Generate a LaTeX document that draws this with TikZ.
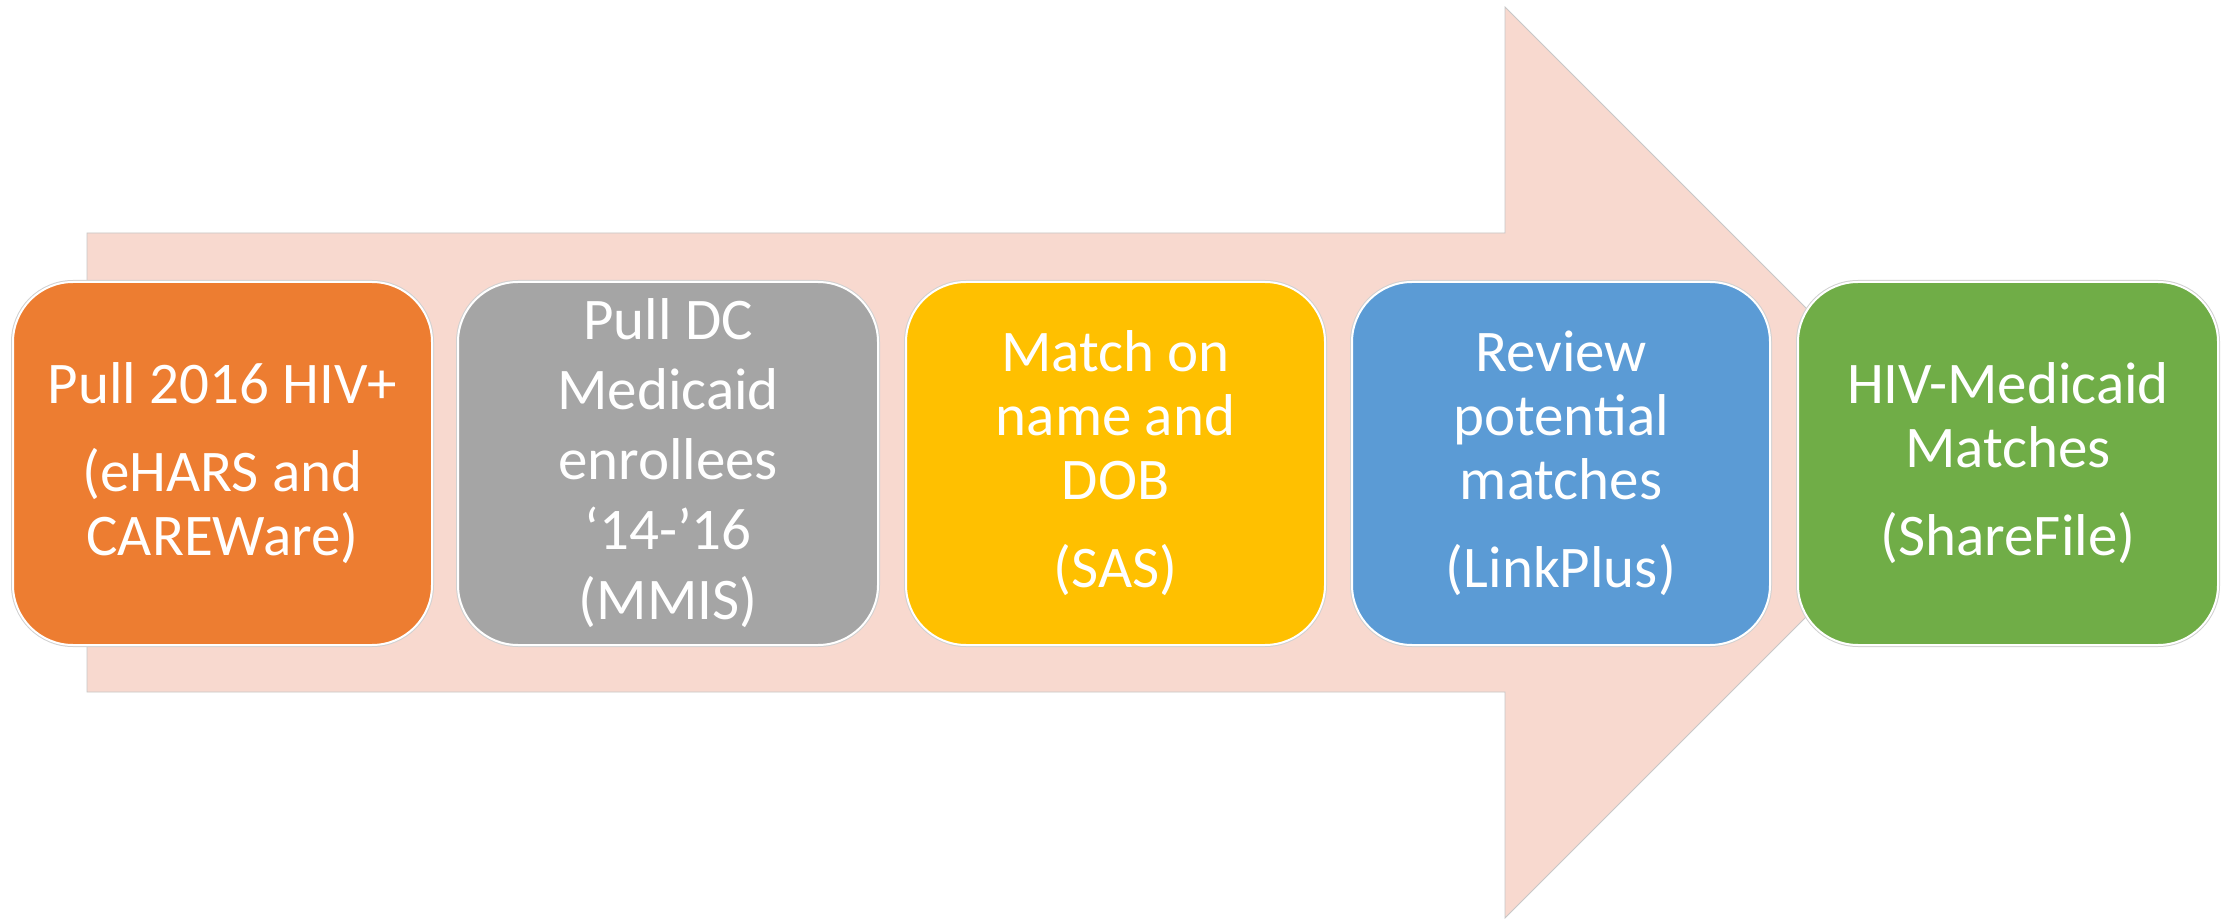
\documentclass[tikz,border=0pt]{standalone}
\usepackage{fontspec}
\setmainfont{Carlito}
\definecolor{arrowfill}{HTML}{F8D9CF}
\definecolor{c1}{HTML}{ED7D31}
\definecolor{c2}{HTML}{A5A5A5}
\definecolor{c3}{HTML}{FFC000}
\definecolor{c4}{HTML}{5B9BD5}
\definecolor{c5}{HTML}{70AD47}
\tikzset{
  stepbox/.style={rounded corners=30pt, inner sep=0pt, minimum height=181.5pt,
    draw=white, line width=1pt, preaction={draw=black!18, line width=2pt},
    text=white, align=center, font=\fontsize{29.5pt}{32pt}\selectfont},
  bigarrow/.style={fill=arrowfill, draw=black!22, line width=0.4pt}
}
\begin{document}
\begin{tikzpicture}[x=0.5pt,y=-0.5pt]
\useasboundingbox (0,0) rectangle (2234,919);
\fill[white] (0,0) rectangle (2234,919);
\draw[bigarrow] (87,233) -- (1505,233) -- (1505,7) -- (1960.5,462.5) -- (1505,918) -- (1505,692) -- (87,692) -- cycle;
\node[stepbox, fill=c1, minimum width=209.5pt] (b1) at (222.5,463.5)
  {Pull 2016 HIV+\\[12pt](eHARS and\\CAREWare)};
\node[stepbox, fill=c2, minimum width=210pt, font=\fontsize{29.5pt}{35pt}\selectfont] (b2) at (668,463.5)
  {Pull DC\\Medicaid\\enrollees\\‘14-’16\\(MMIS)};
\node[stepbox, fill=c3, minimum width=209.5pt] (b3) at (1115.5,463.5)
  {Match on\\name and\\DOB\\[12pt](SAS)};
\node[stepbox, fill=c4, minimum width=209pt] (b4) at (1561,463.5)
  {Review\\potential\\matches\\[12pt](LinkPlus)};
\node[stepbox, fill=c5, minimum width=210pt] (b5) at (2008,463.5)
  {HIV-Medicaid\\Matches\\[12pt](ShareFile)};
\end{tikzpicture}
\end{document}
